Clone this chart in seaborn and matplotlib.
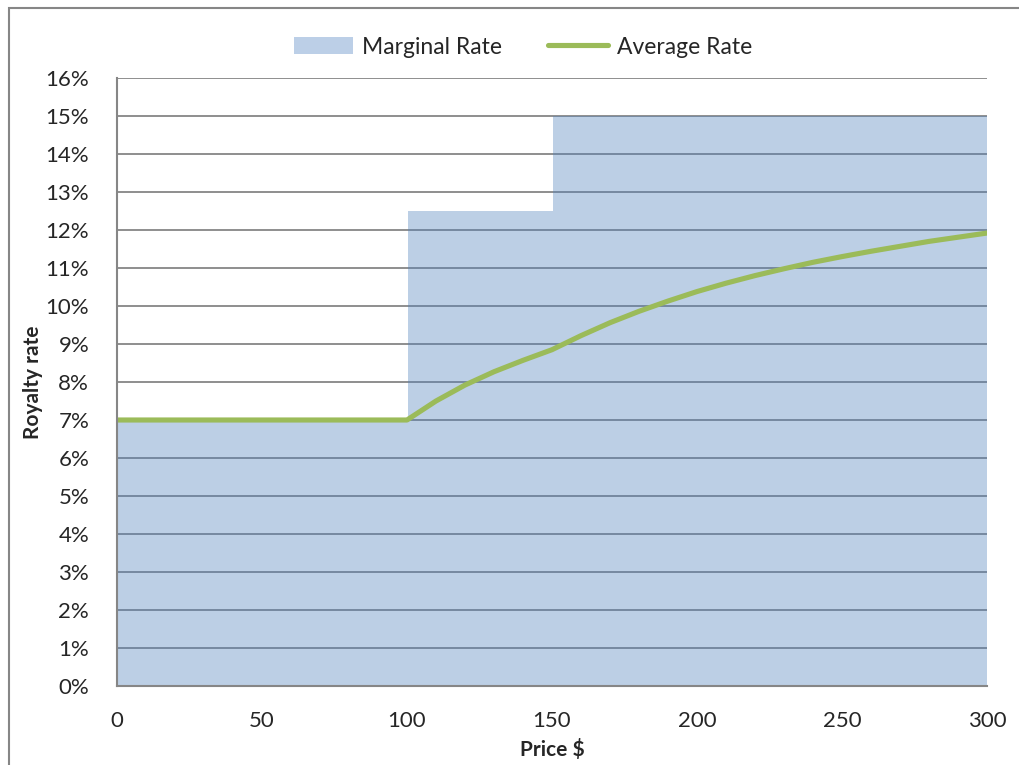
import numpy as np
import pandas as pd
import matplotlib
matplotlib.use('Agg')
import matplotlib.pyplot as plt
import seaborn as sns
from matplotlib.patches import Patch, Rectangle
from matplotlib.lines import Line2D

# royalty brackets (price $ upper bound -> marginal rate %)
bracket_start = [0, 100, 150]
bracket_end = [100, 150, 300]
bracket_rate = [7.0, 12.5, 15.0]

# average rate
avg_price = [0, 50, 100, 110, 120, 130, 140, 150, 160, 170, 180, 190, 200,
             210, 220, 230, 240, 250, 260, 270, 280, 290, 300]
avg_rate = [7.0, 7.0, 7.0, 7.5, 7.92, 8.27, 8.57, 8.85, 9.22, 9.56, 9.86, 10.13, 10.38,
            10.6, 10.8, 10.98, 11.15, 11.3, 11.44, 11.57, 11.7, 11.81, 11.92]

prices = np.arange(0, 302)
marginal = np.zeros(len(prices))
for s, e, r in zip(bracket_start, bracket_end, bracket_rate):
    marginal[(prices > s) & (prices <= e + 1)] = r
marginal[prices == 0] = bracket_rate[0]

df = pd.DataFrame({'price': prices, 'rate': marginal})
avg = pd.DataFrame({'price': avg_price, 'rate': avg_rate})

sns.set_style('white')
plt.rcParams['font.family'] = ['Lato', 'DejaVu Sans']

fig = plt.figure(figsize=(10.19, 7.65), dpi=100)
ax = fig.add_axes([117 / 1019, 1 - 686 / 765, 870 / 1019, 608 / 765])

sns.barplot(data=df, x='price', y='rate', native_scale=True, width=1.0,
            color='#4F81BD', saturation=1, alpha=0.38, linewidth=0,
            errorbar=None, ax=ax, zorder=3)
sns.lineplot(data=avg, x='price', y='rate', color='#9BBB59', linewidth=3.7,
             ax=ax, zorder=4)

ax.set_xlim(0, 300)
ax.set_ylim(0, 16)
ax.set_yticks(range(0, 17))
ax.set_yticklabels([f'{v}%' for v in range(0, 17)])
ax.set_xticks(range(0, 301, 50))
ax.yaxis.grid(True, color='#868686', linewidth=1.3, zorder=1)
ax.set_axisbelow(True)
ax.tick_params(axis='both', length=0, labelsize=16)
ax.tick_params(axis='x', pad=18)
ax.tick_params(axis='y', pad=20)
for sp in ['top', 'right']:
    ax.spines[sp].set_visible(False)
for sp in ['left', 'bottom']:
    ax.spines[sp].set_color('#868686')
    ax.spines[sp].set_linewidth(1.5)
    ax.spines[sp].set_zorder(5)

ax.set_xlabel('Price $', fontsize=15, fontweight='bold', labelpad=6)
ax.set_ylabel('Royalty rate', fontsize=15, fontweight='bold', labelpad=2)

handles = [Patch(facecolor='#BCCFE7', edgecolor='none'),
           Line2D([0], [0], color='#9BBB59', linewidth=3.7)]
fig.legend(handles, ['Marginal Rate', 'Average Rate'], loc='center',
           bbox_to_anchor=(523 / 1019, 1 - 47 / 765), ncol=2, frameon=False,
           fontsize=16.5, handlelength=2.6, columnspacing=2.0, handletextpad=0.4)

fig.patches.append(Rectangle((9 / 1019, -0.1), 1.2, 1 - 8 / 765 + 0.1,
                             transform=fig.transFigure, fill=False,
                             edgecolor='#868686', linewidth=1.5))

fig.savefig('out.png', dpi=100)
